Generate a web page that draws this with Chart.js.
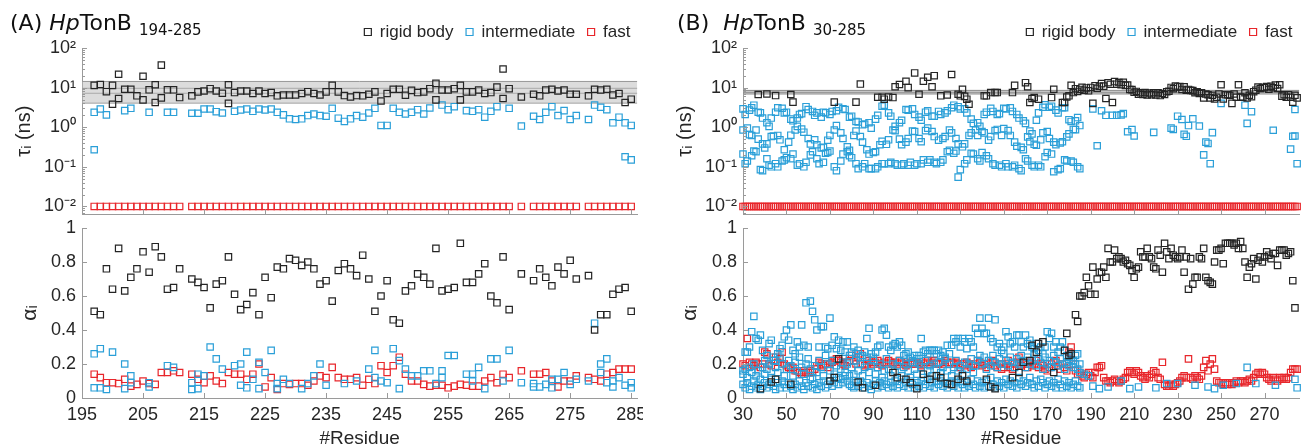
<!DOCTYPE html>
<html>
<head>
<meta charset="utf-8">
<script src="https://cdn.jsdelivr.net/npm/chart.js@4.4.1/dist/chart.umd.min.js"></script>
<style>
  body { margin: 0; width: 1306px; height: 447px; overflow: hidden; background: #fff; position: relative; }
  .plot { position: absolute; }
  .ptitle { position: absolute; top: 11px; font-family: "DejaVu Sans", sans-serif; font-size: 22px; line-height: 24px; color: #111; white-space: nowrap; z-index: 2; }
  .ptitle .sub { font-size: 15px; position: relative; top: 5px; margin-left: 7px; }
</style>
</head>
<body>
<div class="ptitle" style="left:10px">(A) <i>Hp</i>TonB<span class="sub">194-285</span></div>
<div class="ptitle" style="left:677px">(B)&nbsp; <i>Hp</i>TonB<span class="sub">30-285</span></div>

<div class="plot" style="left:0;top:0;width:643px;height:220px"><canvas id="tauA"></canvas></div>
<div class="plot" style="left:0;top:218px;width:643px;height:229px"><canvas id="alphaA"></canvas></div>
<div class="plot" style="left:660px;top:0;width:645px;height:220px"><canvas id="tauB"></canvas></div>
<div class="plot" style="left:660px;top:218px;width:645px;height:229px"><canvas id="alphaB"></canvas></div>

<script>
// ---------------- data: panel A (HpTonB 194-285) ----------------
const FAST_TAU = 0.01; // fast component sits at 10^-2 ns for every residue

const residuesA = [
  197, 198, 199, 200, 201, 202, 203, 204, 205, 206, 207, 208, 209, 210, 211,
  213, 214, 215, 216, 217, 218, 219, 220, 221, 222,
  223, 224, 225, 226, 227, 228, 229, 230, 231, 232,
  233, 234, 235, 236, 237, 238, 239, 240, 241, 242,
  243, 244, 245, 246, 247, 248, 249, 250, 251, 252,
  253, 254, 255, 256, 257, 258, 259, 260, 261, 262,
  263, 264, 265,
  267,
  269, 270, 271, 272, 273, 274, 275, 276,
  278, 279, 280, 281, 282, 283, 284, 285
];
const rigidTauA = [
  11.4, 12.0, 7.9, 11.4, 21.7, 9.1, 9.1, 6.2, 19.4, 8.8, 11.8, 37, 8.8, 8.8, 5.6,
  6.2, 7.8, 8.2, 9.4, 8.2, 7.2, 11.8, 7.5, 8.2, 8.2,
  7.1, 8.2, 7.1, 7.5, 6.2, 6.5, 6.5, 6.5, 7.1, 7.9,
  7.1, 6.5, 7.8, 11.4, 7.8, 6.3, 5.8, 6.3, 6.2, 6.8,
  7.8, 4.6, 7.1, 9.1, 9.1, 6.4, 8.5, 7.5, 7.8, 9.4,
  12.8, 8.7, 8.7, 9.4, 11.4, 7.8, 7.8, 8.7, 7.1, 7.5,
  10.3, 29.5, 9.4,
  5.8,
  6.8, 6.2, 8.7, 9.1, 8.2, 8.7, 6.8, 6.8,
  6.2, 9.1, 8.7, 9.1, 6.5, 7.1, 4.2, 5.1
];
const rigidTauA2Res = [200, 201, 205, 207, 208, 219, 253, 257, 264];
const rigidTauA2 = [3.8, 5.3, 4.9, 4.2, 5.5, 4.0, 4.9, 4.9, 5.3];
const interTauA = [
  2.38, 2.88, 2.05, null, null, 2.62, 3.0, null, null, 2.38, null, null, 2.38, 2.38, null,
  2.25, 2.25, 2.88, 2.88, 2.47, 2.29, null, 2.52, 2.72, 2.88,
  2.52, 2.88, 2.72, 2.88, 2.38, 2.05, 1.63, 1.57, 1.63, 1.97,
  2.16, 1.97, 1.89, 3.0, 1.69, 1.40, 1.63, 1.97, 1.79, 2.29,
  3.0, 1.11, 1.11, 3.0, 2.38, 2.16, 2.38, 2.77, 2.16, 3.05,
  null, 3.62, 2.77, 3.3, null, 2.62, 2.52, 2.77, 1.79, 2.52,
  3.3, null, 3.0,
  1.07,
  1.89, 1.57, 2.38, 3.3, 1.97, 2.62, 1.57, 1.97,
  1.57, 3.62, 3.2, 2.77, 1.29, 1.79, 1.29, 1.11
];
const interTauA2Res = [197, 284, 285];
const interTauA2 = [0.27, 0.18, 0.15];

const rigidAlphaA = [
  0.51, 0.49, 0.76, 0.64, 0.88, 0.63, 0.71, 0.76, 0.86, 0.74, 0.89, 0.83, 0.64, 0.65, 0.76,
  0.70, 0.68, 0.65, 0.53, 0.67, 0.69, 0.83, 0.61, 0.52, 0.55,
  0.62, 0.49, 0.71, 0.59, 0.77, 0.76, 0.82, 0.81, 0.78, 0.80,
  0.76, 0.67, 0.69, 0.57, 0.75, 0.79, 0.76, 0.72, 0.84, 0.70,
  0.51, 0.60, 0.69, 0.46, 0.44, 0.63, 0.66, 0.73, 0.71, 0.67,
  0.88, 0.63, 0.64, 0.65, 0.91, 0.68, 0.68, 0.73, 0.79, 0.60,
  0.56, 0.83, 0.52,
  0.73,
  0.69, 0.76, 0.71, 0.66, 0.77, 0.73, 0.81, 0.70,
  0.72, 0.40, 0.49, 0.49, 0.61, 0.64, 0.65, 0.51
];
const interAlphaA = [
  0.26, 0.29, 0.05, 0.27, null, 0.20, 0.13, null, null, 0.09, null, null, 0.19, 0.18, null,
  0.09, 0.14, 0.13, 0.30, 0.23, 0.17, null, 0.19, 0.20, 0.27,
  0.11, 0.21, 0.15, 0.28, 0.085, 0.11, 0.085, null, 0.055, 0.085,
  0.13, 0.20, 0.075, null, null, 0.085, null, 0.10, null, 0.17,
  0.28, 0.10, 0.09, 0.29, 0.22, 0.17, 0.13, 0.13, 0.16, 0.16,
  0.085, 0.16, 0.25, 0.25, null, 0.14, 0.14, 0.18, 0.055, 0.23,
  0.23, 0.10, 0.28,
  0.09,
  0.085, 0.065, 0.08, 0.11, 0.11, 0.15, 0.08, 0.11,
  0.10, 0.44, 0.20, 0.23, 0.10, 0.12, 0.075, 0.09
];
const interAlphaA2Res = [197, 198, 202, 203, 206, 213, 214, 221, 222, 224, 227, 243, 247, 254, 259, 269, 272, 280, 281, 282, 285];
const interAlphaA2 = [0.06, 0.06, 0.055, 0.09, 0.065, 0.05, 0.055, 0.075, 0.06, 0.055, 0.055, 0.12, 0.055, 0.12, 0.10, 0.065, 0.06, 0.15, 0.09, 0.065, 0.06];
const fastAlphaA = [
  0.14, 0.12, 0.09, 0.09, 0.085, 0.11, 0.07, 0.08, 0.10, 0.085, 0.08, 0.15, 0.15, 0.16, 0.15,
  0.14, 0.11, 0.09, 0.13, 0.10, 0.085, 0.15, 0.14, 0.14, 0.11,
  0.14, 0.20, 0.065, 0.12, 0.05, 0.085, 0.08, 0.085, 0.085, 0.075,
  0.10, 0.13, 0.12, 0.18, 0.12, 0.11, 0.11, 0.12, 0.075, 0.11,
  0.085, 0.19, 0.15, 0.19, 0.24, 0.14, 0.10, 0.10, 0.08, 0.07,
  0.075, 0.075, 0.06, 0.07, 0.08, 0.075, 0.07, 0.07, 0.10, 0.12,
  0.09, 0.14, 0.12,
  0.16,
  0.14, 0.14, 0.15, 0.10, 0.065, 0.10, 0.10, 0.13,
  0.12, 0.11, 0.10, 0.14, 0.15, 0.17, 0.17, 0.17
];
const bandA = [4.06, 14.3];      // shaded rigid-body range
const bandLinesA = [7.2, 9.6];

// ---------------- data: panel B (HpTonB 30-285) ----------------
const firstResB = 30;   // dense arrays below start at residue 30
const firstRigidB = 185; // dense rigid-body arrays start at residue 185

// three intermediate components, residues 30-185
const interTauB1 = [
  2.9, 2.1, null, 2.7, 3.1, 3.6, null, 2.4, 2.3, 1.7,
  null, 1.3, 1.05, 1.7, null, 2.4, 3.1, null, 3.0, 2.3,
  2.4, null, 1.6, 1.45, null, 1.7, 2.1, 2.2, null, 3.3,
  2.8, null, 2.5, 2.0, 2.3, null, 1.8, 2.4, 2.3, null,
  2.1, 2.5, null, 2.6, 3.2, null, 2.9, 2.8, null, 1.8,
  1.9, null, 1.4, 1.35, null, 1.15, 1.2, null, 1.3, 0.95,
  null, 1.6, 2.0, null, 3.4, 3.6, null, 2.3, 1.9, null,
  1.05, null, 1.3, 1.5, null, 2.8, 2.7, null, 2.9, 2.1,
  null, 1.8, 1.5, null, 2.4, 2.6, null, 1.9, 1.9, null,
  2.5, 2.1, null, 2.3, 2.6, null, 3.1, 3.6, null, 3.3,
  2.9, null, 2.9, 2.3, null, 1.6, 1.25, null, 1.3, 1.05,
  null, 2.1, 2.4, null, 3.0, 2.5, null, 2.1, 2.2, null,
  3.0, 2.9, null, 3.1, 2.5, null, 2.1, 1.7, null, 1.45,
  1.25, null, 0.8, 0.68, null, 1.5, 2.3, null, 3.2, 3.7,
  null, 3.2, 3.4, null, 2.7, 2.3, null, 3.1, 3.1, null,
  1.55, 1.4, null, 1.45, 1.75, null
];
const interTauB2 = [
  0.85, null, 0.95, 0.65, 0.62, null, 0.85, 0.5, null, 0.38,
  0.3, 0.38, null, 0.58, 0.6, null, 0.62, 0.48, null, 0.27,
  null, 0.42, 0.63, null, 0.85, 1.05, null, 0.9, 0.75, null,
  0.52, 0.38, null, 0.48, 0.36, null, 0.3, 0.31, null, 0.47,
  0.62, null, 0.85, 1.1, null, 0.72, 0.52, null, 0.32, 0.26,
  null, 0.62, 0.8, null, 0.58, 0.42, null, 0.27, 0.21, null,
  0.23, 0.24, null, 0.36, 0.44, null, 0.37, 0.48, null, 0.85,
  0.82, null, 0.5, 0.36, null, 0.42, 0.52, null, 0.8, 0.78,
  null, 0.52, 0.43, null, 0.82, 0.95, null, 0.78, 0.58, null,
  0.47, null, 0.52, 0.58, null, 0.85, 0.72, null, 0.52, 0.38,
  null, 0.32, 0.38, null, 0.62, 0.72, null, 0.85, 0.62, null,
  0.78, 0.72, null, 0.47, 0.58, null, 0.82, 0.88, null, 0.62,
  0.92, null, 0.82, 0.62, null, 0.42, 0.33, null, 0.31, 0.27,
  null, 0.57, 0.43, null, 0.37, 0.35, null, 0.48, 0.72, null,
  0.78, 0.52, null, 0.42, 0.36, null, 0.4, 0.43, null, 0.57,
  0.68, null, 0.88, 0.87, null, 1.1
];
const interTauB3 = [
  0.21, 0.12, 0.14, null, 0.19, 0.25, 0.24, null, 0.085, 0.08,
  null, 0.16, 0.11, 0.1, null, 0.12, 0.1, null, 0.14, 0.15,
  0.17, null, 0.16, 0.21, null, 0.11, 0.12, null, 0.1, 0.13,
  null, 0.2, 0.24, null, 0.16, 0.12, null, 0.13, 0.22, 0.23,
  0.25, null, 0.1, 0.08, null, 0.14, 0.21, null, 0.24, 0.19,
  0.17, null, 0.12, 0.09, null, 0.1, 0.12, null, 0.09, 0.09,
  null, 0.09, 0.1, null, 0.12, 0.12, null, 0.12, 0.13, null,
  0.12, 0.11, null, 0.11, 0.12, null, 0.11, 0.13, null, 0.11,
  0.12, null, 0.12, 0.15, null, 0.13, 0.15, null, 0.13, 0.12,
  null, 0.13, 0.15, null, 0.24, 0.26, null, 0.22, 0.25, 0.055,
  0.085, null, 0.12, 0.15, null, 0.22, 0.21, null, 0.16, 0.14,
  0.23, null, 0.19, 0.16, null, 0.12, 0.11, null, 0.11, 0.1,
  null, 0.12, 0.1, null, 0.1, 0.11, null, 0.09, 0.08, null,
  0.16, 0.14, null, 0.11, 0.1, null, 0.11, 0.1, null, 0.18,
  0.23, null, 0.21, 0.075, null, 0.085, 0.09, null, 0.15, 0.14,
  null, 0.14, 0.13, null, 0.1, 0.09
];
const interTauBRes = [191, 193, 195, 197, 200, 202, 204, 205, 207, 209, 210, 219, 227, 228, 230, 232, 233, 234, 235, 237,
  240, 242, 243, 244, 245, 246, 250, 261, 262, 264, 274, 282, 283, 284, 284, 285];
const interTauBExtra = [2.9, 0.34, 2.6, 2.0, 2.0, 2.0, 2.05, 2.2, 0.77, 0.87, 0.6, 0.74, 0.95, 0.88, 1.9, 1.57, 0.66, 0.59, 1.1, 1.63,
  1.07, 0.2, 0.42, 0.39, 0.12, 0.73, 4.0, 3.6, 1.25, 2.47, 0.84, 0.28, 0.59, 0.6, 2.8, 0.12];

const rigidTauBRes = [37, 41, 45, 52, 53, 72, 82, 84, 92, 94, 95, 97, 99, 100, 102, 105, 106, 109, 111, 113,
  115, 117, 118, 121, 124, 126, 129, 130, 131, 132, 133, 134, 141, 142, 144, 146, 147, 154, 155, 160,
  161, 162, 163, 164, 166, 172, 173, 177, 178, 179, 180, 181, 182, 183, 184];
const rigidTauBSparse = [6.7, 6.9, 6.3, 6.7, 4.3, 4.3, 4.3, 12.3, 5.7, 5.7, 5.1, 5.8, 5.6, 10.5, 12.0, 14.5, 10.0, 23.5, 6.8, 14.5,
  18.3, 10.5, 20.0, 6.2, 6.5, 21.4, 6.8, 6.2, 9.1, 6.0, 5.1, 3.8, 6.2, 6.2, 7.5, 7.5, 7.5, 7.5, 11.4, 13.3,
  10.5, 4.2, 5.3, 5.6, 5.1, 5.6, 9.1, 4.2, 4.2, 5.8, 6.2, 11.4, 7.5, 9.4, 8.0];
const rigidTauB = [
  9.0, 10.2, 8.6, 9.8, 8.3,
  10.1, 4.0, 11.2, 9.6, 10.8, 12.6, 10.9, 5.3, 13.3, 12.1,
  4.2, 14.2, 12.2, 13.4, 11.9, 13.6, 11.4, 11.6, 9.0, 8.9,
  7.6, 8.0, 6.8, 7.4, 6.7, 7.5, 6.5, 7.3, 6.6, 7.4,
  6.5, 7.4, 6.3, 7.1, 6.7, 7.9, 8.1, 10.1, 9.4, 11.0,
  10.4, 10.6, 9.0, 10.5, 8.6, 9.0, 8.5, 8.4, 7.4, 7.9,
  7.1, 7.4, 5.5, 6.9, 6.6, 5.5, 6.4, 5.2, 5.7, 6.9,
  11.8, 5.2, 6.6, 6.6, 6.4, 4.0, 6.9, 5.7, 11.8, 5.8,
  5.7, 7.4, 5.5, 6.4, 5.9, 7.9, 8.6, 10.3, 9.5, 10.0,
  10.0, 10.6, 9.1, 10.8, 9.9, 11.6, 9.5, 11.8, 6.1, 6.6,
  5.7, 6.6, 5.7, 4.3, 6.4, 5.5
];

const rigidAlphaBRes = [38, 43, 45, 52, 70, 72, 74, 83, 85, 91, 99, 101, 105, 107, 110, 113, 116, 119, 121, 124,
  126, 129, 131, 133, 142, 144, 146, 154, 157, 159, 162, 163, 165, 166, 168, 173, 178, 179, 180, 181, 183, 184];
const rigidAlphaBSparse = [0.055, 0.094, 0.11, 0.08, 0.1, 0.12, 0.23, 0.094, 0.06, 0.075, 0.15, 0.12, 0.11, 0.09, 0.055, 0.14, 0.11, 0.13, 0.12, 0.085,
  0.08, 0.11, 0.13, 0.1, 0.11, 0.065, 0.055, 0.12, 0.15, 0.21, 0.22, 0.31, 0.27, 0.32, 0.33, 0.15, 0.28, 0.38, 0.25, 0.26, 0.49, 0.45];
const rigidAlphaB = [
  0.60, 0.60, 0.62, 0.71, 0.66,
  0.61, 0.77, 0.61, 0.70, 0.74, 0.74, 0.77, 0.71, 0.88, 0.80,
  0.80, 0.87, 0.82, 0.83, 0.82, 0.80, 0.81, 0.79, 0.78, 0.75,
  0.71, 0.76, 0.77, 0.86, 0.83, 0.83, 0.88, 0.83, 0.82, 0.77,
  0.76, 0.87, 0.84, 0.74, 0.91, 0.86, 0.82, 0.88, 0.84, 0.83,
  0.82, 0.83, 0.87, 0.74, 0.83, 0.64, 0.82, 0.67, 0.71, 0.71,
  0.83, 0.82, 0.88, 0.71, 0.69, 0.68, 0.67, 0.80, 0.87, 0.87,
  0.88, 0.79, 0.91, 0.91, 0.91, 0.91, 0.90, 0.91, 0.88, 0.92,
  0.88, 0.80, 0.71, 0.77, 0.79, 0.82, 0.70, 0.81, 0.83, 0.80,
  0.83, 0.86, 0.84, 0.82, 0.85, 0.85, 0.78, 0.87, 0.87, 0.87,
  0.84, 0.85, 0.86, 0.69, 0.53, null
];

const interAlphaB1 = [
  0.16, 0.27, 0.27, 0.3, 0.39, 0.48, 0.35, 0.34, 0.37, 0.28,
  0.22, 0.25, 0.32, 0.34, 0.24, 0.22, 0.26, 0.29, 0.31, 0.36,
  0.4, 0.34, 0.43, 0.28, 0.26, 0.33, 0.3, 0.43, 0.31, 0.56,
  0.3, 0.57, 0.51, 0.46, 0.4, 0.3, 0.42, 0.42, 0.3, 0.29,
  0.47, 0.31, 0.36, 0.29, 0.34, 0.28, 0.33, 0.27, 0.33, 0.25,
  0.27, 0.3, 0.26, 0.28, 0.24, 0.25, 0.27, 0.35, 0.41, 0.26,
  0.24, 0.27, 0.3, 0.31, 0.4, 0.41, 0.37, 0.3, 0.28, 0.31,
  0.32, 0.3, 0.33, 0.31, 0.25, 0.26, 0.27, 0.24, 0.22, 0.25,
  0.23, 0.25, 0.35, 0.27, 0.28, 0.26, 0.28, 0.28, 0.28, 0.26,
  0.28, 0.25, 0.27, 0.23, 0.31, 0.26, 0.31, 0.35, 0.33, 0.35,
  0.3, 0.35, 0.33, 0.29, 0.35, 0.33, 0.3, 0.41, 0.38, 0.47,
  0.41, 0.38, 0.38, 0.47, 0.35, 0.33, 0.46, 0.3, 0.32, 0.28,
  0.3, 0.39, 0.36, 0.32, 0.33, 0.3, 0.37, 0.37, 0.33, 0.3,
  0.37, 0.32, 0.34, 0.3, 0.29, 0.32, 0.28, 0.3, 0.26, 0.3,
  0.39, 0.35, 0.38, 0.3, 0.33, 0.27, 0.3, 0.33, 0.28, 0.25,
  0.24, 0.26, 0.22, 0.25, 0.26, 0.2
];
const interAlphaB2 = [
  0.14, 0.17, 0.12, 0.18, 0.15, 0.2, 0.13, 0.16, 0.11, 0.18,
  0.14, 0.17, 0.2, 0.12, 0.22, 0.18, 0.15, 0.24, 0.2, 0.13,
  0.17, 0.22, 0.19, 0.13, 0.21, 0.16, 0.24, 0.18, 0.14, 0.2,
  0.23, 0.17, 0.12, 0.19, 0.15, 0.22, 0.18, 0.13, 0.25, 0.2,
  0.16, 0.22, 0.14, 0.19, 0.12, 0.17, 0.21, 0.15, 0.2, 0.13,
  0.18, 0.14, 0.22, 0.16, 0.2, 0.13, 0.18, 0.24, 0.15, 0.19,
  0.22, 0.14, 0.18, 0.2, 0.12, 0.16, 0.23, 0.17, 0.13, 0.2,
  0.15, 0.19, 0.22, 0.13, 0.18, 0.2, 0.16, 0.12, 0.21, 0.17,
  0.14, 0.2, 0.18, 0.12, 0.22, 0.16, 0.19, 0.13, 0.2, 0.17,
  0.21, 0.15, 0.18, 0.24, 0.16, 0.2, 0.13, 0.18, 0.22, 0.16,
  0.19, 0.14, 0.21, 0.17, 0.2, 0.23, 0.15, 0.19, 0.22, 0.25,
  0.2, 0.24, 0.17, 0.22, 0.19, 0.25, 0.21, 0.18, 0.23, 0.2,
  0.26, 0.22, 0.19, 0.24, 0.21, 0.18, 0.23, 0.2, 0.25, 0.22,
  0.18, 0.24, 0.2, 0.22, 0.26, 0.19, 0.23, 0.21, 0.17, 0.24,
  0.2, 0.22, 0.18, 0.25, 0.21, 0.19, 0.23, 0.2, 0.17, 0.21,
  0.19, 0.22, 0.18, 0.2, 0.17, 0.15
];
const interAlphaB3 = [
  0.08, 0.06, 0.09, 0.05, 0.07, 0.1, 0.06, 0.08, 0.05, 0.07,
  0.09, 0.06, 0.08, 0.11, 0.07, 0.05, 0.09, 0.06, 0.1, 0.08,
  0.06, 0.09, 0.07, 0.05, 0.08, 0.06, 0.1, 0.07, 0.05, 0.09,
  0.07, 0.11, 0.06, 0.08, 0.05, 0.09, 0.07, 0.1, 0.06, 0.08,
  0.1, 0.07, 0.09, 0.12, 0.08, 0.11, 0.09, 0.13, 0.1, 0.08,
  0.07, 0.06, 0.09, 0.07, 0.1, 0.08, 0.06, 0.09, 0.07, 0.05,
  0.08, 0.1, 0.06, 0.09, 0.07, 0.1, 0.08, 0.06, 0.09, 0.07,
  0.1, 0.06, 0.08, 0.11, 0.07, 0.09, 0.06, 0.1, 0.08, 0.06,
  0.09, 0.07, 0.1, 0.06, 0.08, 0.11, 0.07, 0.09, 0.06, 0.1,
  0.08, 0.1, 0.07, 0.09, 0.06, 0.08, 0.1, 0.07, 0.09, 0.06,
  0.1, 0.08, 0.06, 0.09, 0.07, 0.11, 0.08, 0.06, 0.1, 0.07,
  0.09, 0.06, 0.1, 0.07, 0.12, 0.08, 0.06, 0.1, 0.07, 0.09,
  0.06, 0.11, 0.08, 0.1, 0.07, 0.09, 0.06, 0.12, 0.08, 0.1,
  0.07, 0.09, 0.12, 0.08, 0.06, 0.1, 0.07, 0.11, 0.09, 0.06,
  0.08, 0.1, 0.07, 0.09, 0.06, 0.11, 0.08, 0.06, 0.1, 0.07,
  0.09, 0.06, 0.08, 0.1, 0.07, 0.06
];
const interAlphaBRes = [187, 189, 191, 194, 198, 204, 208, 212, 220, 225, 230, 238, 244, 247, 251, 257, 262, 266, 275, 284, 285];
const interAlphaBExtra = [0.14, 0.13, 0.07, 0.055, 0.065, 0.1, 0.055, 0.065, 0.06, 0.085, 0.085, 0.075, 0.065, 0.055, 0.075, 0.085, 0.18, 0.085, 0.075, 0.11, 0.06];

const fastAlphaB = [
  0.2, 0.19, 0.35, 0.21, 0.2, 0.19, 0.21, 0.2, 0.18, 0.2,
  0.27, 0.26, 0.2, 0.19, 0.22, 0.24, 0.21, 0.23, 0.27, 0.2,
  0.19, 0.18, 0.17, 0.18, 0.16, 0.16, 0.15, 0.14, 0.16, 0.15,
  0.15, 0.16, 0.15, 0.17, 0.19, 0.21, 0.2, 0.19, 0.2, 0.18,
  0.2, 0.21, 0.22, 0.23, 0.22, 0.21, 0.2, 0.19, 0.21, 0.22,
  0.25, 0.22, 0.2, 0.24, 0.26, 0.2, 0.19, 0.2, 0.22, 0.21,
  0.2, 0.21, 0.22, 0.2, 0.19, 0.21, 0.2, 0.22, 0.21, 0.2,
  0.21, 0.2, 0.22, 0.21, 0.2, 0.19, 0.2, 0.21, 0.2, 0.2,
  0.21, 0.2, 0.19, 0.2, 0.21, 0.22, 0.2, 0.21, 0.22, 0.2,
  0.2, 0.21, 0.2, 0.22, 0.21, 0.2, 0.21, 0.2, 0.21, 0.2,
  0.18, 0.2, 0.19, 0.21, 0.2, 0.18, 0.19, 0.2, 0.22, 0.21,
  0.19, 0.2, 0.18, 0.2, 0.21, 0.22, 0.19, 0.18, 0.2, 0.17,
  0.18, 0.2, 0.22, 0.18, 0.17, 0.2, 0.21, 0.24, 0.19, 0.2,
  0.2, 0.18, 0.21, 0.19, 0.2, 0.22, 0.18, 0.2, 0.19, 0.17,
  0.16, 0.18, 0.2, 0.21, 0.22, 0.19, 0.17, 0.2, 0.18, 0.16,
  0.27, 0.3, 0.2, 0.16, 0.14, 0.15, 0.13, 0.12, 0.14, 0.15,
  0.13, 0.12, 0.15, 0.18, 0.18, 0.19, 0.12, 0.1, 0.1, 0.09,
  0.1, 0.11, 0.1, 0.09, 0.1, 0.11, 0.12, 0.15, 0.16, 0.15,
  0.14, 0.16, 0.15, 0.13, 0.12, 0.11, 0.13, 0.12, 0.14, 0.16,
  0.15, 0.12, 0.11, 0.21, 0.08, 0.07, 0.07, 0.08, 0.07, 0.08,
  0.09, 0.1, 0.12, 0.13, 0.12, 0.23, 0.12, 0.11, 0.13, 0.12,
  0.11, 0.13, 0.18, 0.22, 0.16, 0.2, 0.23, 0.17, 0.1, 0.09,
  0.09, 0.08, 0.09, 0.08, 0.09, 0.08, 0.09, 0.1, 0.09, 0.1,
  0.1, 0.09, 0.1, 0.11, 0.1, 0.12, 0.14, 0.15, 0.14, 0.15,
  0.14, 0.12, 0.11, 0.1, 0.12, 0.11, 0.1, 0.12, 0.11, 0.12,
  0.11, 0.12, 0.15, 0.17, 0.17, 0.17
];
const bandB = [6.9, 8.5];
const bandLinesB = [7.6];

// ---------------- axis ticks ----------------
const xTicksA = [195, 205, 215, 225, 235, 245, 255, 265, 275, 285];
const xTicksB = [30, 50, 70, 90, 110, 130, 150, 170, 190, 210, 230, 250, 270];
const tauTickLabels = ['10⁻²', '10⁻¹', '10⁰', '10¹', '10²'];
const alphaTicks = [0, 0.2, 0.4, 0.6, 0.8, 1];
const alphaTickLabels = ['0', '0.2', '0.4', '0.6', '0.8', '1'];

// ---------------- styling ----------------
const SANS = '"Liberation Sans", Arial, Helvetica, sans-serif';
const AXIS = '#9a9a9a';
const TEXT = '#262626';
const BLACK = '#242424';
const BLUE = '#2a9fd8';
const RED = '#e8262b';

function run(start, n) {
  const r = [];
  for (let i = 0; i < n; i++) r.push(start + i);
  return r;
}

function pts(res, vals) {
  const out = [];
  vals.forEach((v, i) => { if (v !== null) out.push({ x: res[i], y: v }); });
  return out;
}

function marks(label, color, data) {
  return {
    label, data, order: 0, clip: false,
    pointStyle: 'rect', pointRadius: 4.5, pointBorderWidth: 1.2,
    borderColor: color, backgroundColor: 'rgba(0,0,0,0)'
  };
}

function hline(y, x0, x1, color, fill, fillColor) {
  return {
    type: 'line', data: [{ x: x0, y }, { x: x1, y }], order: 2,
    borderColor: color, borderWidth: 1, pointRadius: 0,
    fill: fill, backgroundColor: fillColor
  };
}

function band(range, lines, x0, x1, fillColor, lineColor) {
  const sets = [
    hline(range[1], x0, x1, lineColor, '+1', fillColor),
    hline(range[0], x0, x1, lineColor, false, fillColor)
  ];
  lines.forEach(v => sets.push(hline(v, x0, x1, lineColor, false, fillColor)));
  return sets;
}

// inward tick marks, MATLAB style
const innerTicks = {
  id: 'innerTicks',
  afterDraw(chart) {
    const { ctx, chartArea: area, scales } = chart;
    ctx.save();
    ctx.strokeStyle = AXIS;
    ctx.lineWidth = 1;
    ctx.beginPath();
    scales.x.ticks.forEach(t => {
      const px = Math.round(scales.x.getPixelForValue(t.value)) + 0.5;
      ctx.moveTo(px, area.bottom);
      ctx.lineTo(px, area.bottom - 5);
    });
    scales.y.ticks.forEach(t => {
      const py = Math.round(scales.y.getPixelForValue(t.value)) + 0.5;
      ctx.moveTo(area.left, py);
      ctx.lineTo(area.left + (t.major === false ? 3 : 5), py);
    });
    ctx.stroke();
    ctx.restore();
  }
};

function xAxis(min, max, ticks, withLabels) {
  return {
    type: 'linear', position: 'bottom', min, max, bounds: 'data',
    afterBuildTicks: s => { s.ticks = ticks.map(v => ({ value: v })); },
    afterFit: s => { s.height = withLabels ? 49 : 3; s.paddingLeft = 0; s.paddingRight = 0; },
    grid: { display: false, drawTicks: false },
    border: { display: true, color: AXIS, width: 1 },
    ticks: { display: withLabels, autoSkip: false, maxRotation: 0, padding: 6, color: TEXT, font: { family: SANS, size: 18 } },
    title: { display: withLabels, text: '#Residue', color: TEXT, font: { family: SANS, size: 19, lineHeight: 1 }, padding: { top: 0, bottom: -1 } }
  };
}

function tauAxis(width, titlePad) {
  return {
    type: 'logarithmic', position: 'left', min: 0.00633, max: 100, bounds: 'data',
    afterBuildTicks: s => {
      const t = [];
      for (let d = -3; d <= 2; d++) {
        for (let m = 1; m <= 9; m++) {
          const v = m * Math.pow(10, d);
          if (v >= 0.0063 && v <= 100.001) t.push({ value: v, major: m === 1 });
        }
      }
      s.ticks = t;
    },
    afterFit: s => { s.width = width; s.paddingTop = 0; s.paddingBottom = 0; },
    grid: { display: false, drawTicks: false },
    border: { display: true, color: AXIS, width: 1 },
    ticks: {
      autoSkip: false, padding: 6, color: TEXT, font: { family: SANS, size: 18 },
      callback: (v, i, t) => t[i].major ? tauTickLabels[Math.round(Math.log10(v)) + 2] : ''
    },
    title: { display: true, text: 'τᵢ (ns)', color: TEXT, font: { family: SANS, size: 20, lineHeight: 1 }, padding: { top: titlePad, bottom: 0 } }
  };
}

function alphaAxis(width, titlePad) {
  return {
    type: 'linear', position: 'left', min: 0, max: 1, bounds: 'data',
    afterBuildTicks: s => { s.ticks = alphaTicks.map(v => ({ value: v })); },
    afterFit: s => { s.width = width; s.paddingTop = 0; s.paddingBottom = 0; },
    grid: { display: false, drawTicks: false },
    border: { display: true, color: AXIS, width: 1 },
    ticks: { autoSkip: false, padding: 6, color: TEXT, font: { family: SANS, size: 18 }, callback: (v, i) => alphaTickLabels[i] },
    title: { display: true, text: 'αᵢ', color: TEXT, font: { family: SANS, size: 21, lineHeight: 1 }, padding: { top: titlePad, bottom: 0 } }
  };
}

function tauChart(id, datasets, xMin, xMax, xTicks, yWidth, titlePad) {
  return new Chart(document.getElementById(id), {
    type: 'scatter',
    data: { datasets },
    options: {
      responsive: true, maintainAspectRatio: false, animation: false, events: [], devicePixelRatio: 1,
      layout: { padding: { top: 11, left: 0, right: 0, bottom: 0 } },
      scales: { x: xAxis(xMin, xMax, xTicks, false), y: tauAxis(yWidth, titlePad) },
      plugins: {
        tooltip: { enabled: false },
        legend: {
          display: true, position: 'top', align: 'end', maxHeight: 37,
          labels: {
            usePointStyle: true, boxWidth: 7, boxHeight: 7, padding: 12.5,
            color: TEXT, font: { family: SANS, size: 17 },
            filter: item => item.datasetIndex < 3
          }
        }
      }
    },
    plugins: [innerTicks]
  });
}

function alphaChart(id, datasets, xMin, xMax, xTicks, yWidth, titlePad) {
  return new Chart(document.getElementById(id), {
    type: 'scatter',
    data: { datasets },
    options: {
      responsive: true, maintainAspectRatio: false, animation: false, events: [], devicePixelRatio: 1,
      layout: { padding: { top: 10, left: 0, right: 0, bottom: 0 } },
      scales: { x: xAxis(xMin, xMax, xTicks, true), y: alphaAxis(yWidth, titlePad) },
      plugins: { tooltip: { enabled: false }, legend: { display: false } }
    },
    plugins: [innerTicks]
  });
}

// ---------------- panel A ----------------
tauChart('tauA', [
  marks('rigid body', BLACK, pts(residuesA, rigidTauA).concat(pts(rigidTauA2Res, rigidTauA2))),
  marks('intermediate', BLUE, pts(residuesA, interTauA).concat(pts(interTauA2Res, interTauA2))),
  marks('fast', RED, residuesA.map(r => ({ x: r, y: FAST_TAU }))),
  ...band(bandA, bandLinesA, 195, 286, 'rgba(185,185,185,0.5)', '#989898')
], 195, 286, xTicksA, 82, 14);

alphaChart('alphaA', [
  marks('rigid body', BLACK, pts(residuesA, rigidAlphaA)),
  marks('intermediate', BLUE, pts(residuesA, interAlphaA).concat(pts(interAlphaA2Res, interAlphaA2))),
  marks('fast', RED, pts(residuesA, fastAlphaA))
], 195, 286, xTicksA, 82, 19.5);

// ---------------- panel B ----------------
const interResB = run(firstResB, interTauB1.length);
const rigidResB = run(firstRigidB, rigidTauB.length);
const fastResB = run(firstResB, fastAlphaB.length);

tauChart('tauB', [
  marks('rigid body', BLACK, pts(rigidTauBRes, rigidTauBSparse).concat(pts(rigidResB, rigidTauB))),
  marks('intermediate', BLUE, pts(interResB, interTauB1).concat(pts(interResB, interTauB2), pts(interResB, interTauB3), pts(interTauBRes, interTauBExtra))),
  marks('fast', RED, fastResB.map(r => ({ x: r, y: FAST_TAU }))),
  ...band(bandB, bandLinesB, 30, 286, 'rgba(150,150,150,0.45)', '#8a8a8a')
], 30, 286, xTicksB, 83, 15);

alphaChart('alphaB', [
  marks('rigid body', BLACK, pts(rigidAlphaBRes, rigidAlphaBSparse).concat(pts(rigidResB, rigidAlphaB))),
  marks('intermediate', BLUE, pts(interResB, interAlphaB1).concat(pts(interResB, interAlphaB2), pts(interResB, interAlphaB3), pts(interAlphaBRes, interAlphaBExtra))),
  marks('fast', RED, pts(fastResB, fastAlphaB))
], 30, 286, xTicksB, 83, 19.5);
</script>
</body>
</html>
